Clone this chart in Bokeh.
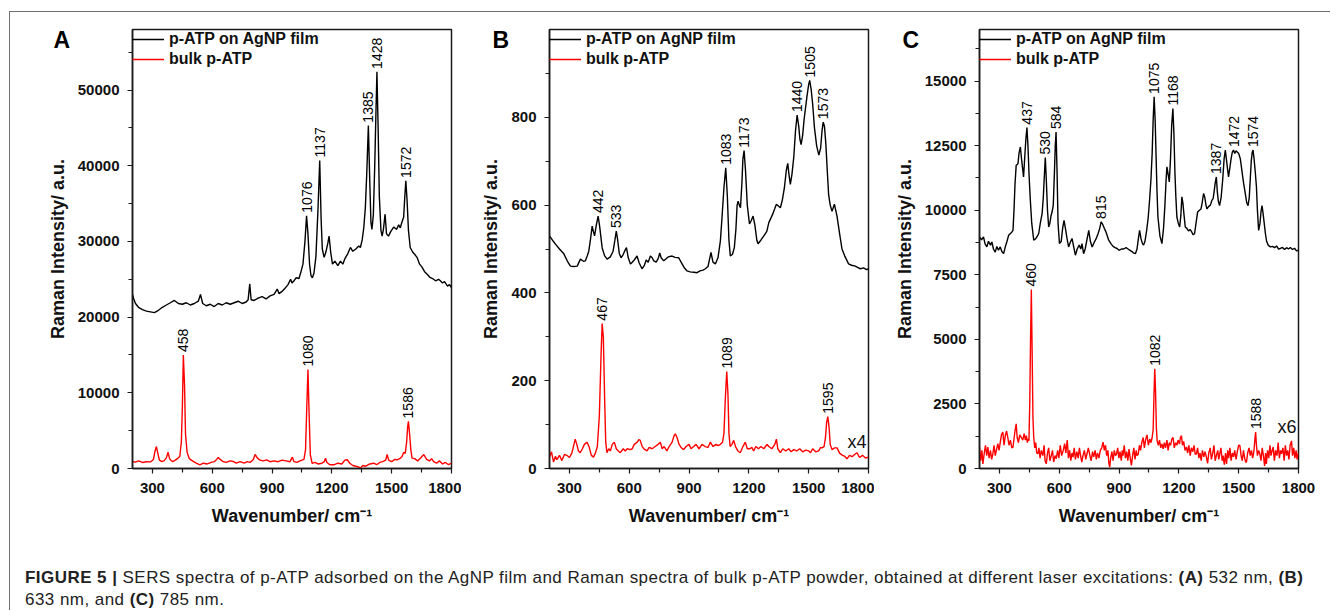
from math import pi
from bokeh.plotting import figure
from bokeh.models import (FixedTicker, Legend, LegendItem, Label, Range1d, Div)
from bokeh.layouts import row, column
from bokeh.core.properties import value
from bokeh.embed import file_html
from bokeh.resources import INLINE

FONT = "Liberation Sans"

# ---------------- Panel A (532 nm) ----------------
A_film_wn = [200,205,215,230,250,270,290,310,330,350,370,390,410,430,450,470,490,510,530,541,552,570,590,610,630,650,670,690,710,730,750,770,780,788,795,810,830,850,870,890,910,926,935,950,965,980,993,1000,1010,1020,1035,1045,1055,1065,1073,1080,1088,1095,1102,1110,1120,1130,1139,1146,1152,1161,1170,1180,1186,1194,1203,1215,1230,1243,1255,1265,1280,1293,1305,1320,1335,1343,1352,1360,1368,1375,1383,1390,1396,1401,1408,1415,1421,1426,1432,1438,1446,1452,1458,1467,1474,1484,1495,1510,1525,1535,1543,1552,1560,1566,1571,1577,1584,1593,1605,1615,1627,1640,1652,1665,1677,1690,1705,1720,1735,1744,1755,1765,1780,1790,1800]
A_film_int = [23000,22500,21800,21300,21000,20800,20700,20600,20900,21300,21600,21900,22200,21800,21700,21900,21600,21800,22100,23000,21800,21500,21700,21400,21800,21600,21900,21700,21900,22100,21800,22000,22300,24400,22300,22200,22500,22700,22400,22800,23000,23700,23100,23400,23800,24300,25000,24500,24800,25200,25100,26000,27000,30000,33400,31000,27000,25500,25200,25800,28000,34000,40700,33000,29000,27900,28600,29800,30700,28600,27000,27400,26800,27400,27000,27700,28400,29200,28700,29000,29400,29200,30200,31800,34500,39000,45300,38000,32500,31600,33500,40000,47000,52400,45000,36000,31500,30700,31500,33600,31000,30700,31300,31900,31600,32200,31800,32600,33200,36000,38000,35500,31500,29200,28600,28300,27900,27000,26600,26000,25700,25300,25100,24800,25000,24800,24500,24700,24100,24300,23900]
A_bulk_wn = [200,215,230,250,270,290,305,313,320,327,335,345,358,370,378,386,395,403,415,425,437,445,450,455,461,466,474,485,495,505,520,538,555,575,595,610,622,630,640,655,670,690,705,720,740,760,775,790,806,815,826,840,856,873,890,910,930,950,970,990,1002,1010,1025,1040,1060,1068,1074,1080,1086,1092,1101,1115,1130,1150,1162,1168,1175,1190,1210,1230,1250,1265,1277,1290,1305,1320,1335,1343,1355,1370,1390,1410,1425,1440,1455,1470,1477,1485,1500,1515,1527,1540,1552,1560,1568,1575,1580,1584,1590,1596,1602,1615,1630,1645,1661,1675,1690,1700,1711,1725,1740,1755,1770,1785,1800]
A_bulk_int = [930,850,1000,800,900,870,1200,2300,2900,2000,1100,930,1000,1400,2160,1300,1000,930,1100,1300,1590,3500,8000,15000,11000,4500,2120,1300,1100,930,700,490,700,600,800,900,1200,1460,1200,900,800,1000,930,700,900,700,900,800,1200,1850,1400,1100,1000,1150,900,1000,900,1100,1000,900,1500,900,800,1000,1200,2500,8000,13070,7000,1800,680,800,600,700,900,1370,800,500,490,700,600,1100,1150,700,400,300,200,50,400,300,600,700,500,800,900,1100,1850,1100,900,1200,1150,1300,1600,2120,2000,3500,5500,6220,4500,2500,1370,1300,1000,1400,1850,1200,1000,1300,900,700,1000,600,800,500,700]
A_film_peaks = ["1076", "1137", "1385", "1428", "1572"]
A_film_peak_x = [1073, 1139, 1383, 1426, 1571]
A_film_peak_y = [33400, 40700, 45300, 52400, 38000]
A_bulk_peaks = ["458", "1080", "1586"]
A_bulk_peak_x = [455, 1080, 1584]
A_bulk_peak_y = [15000, 13070, 6220]
A_yticks = [0, 10000, 20000, 30000, 40000, 50000]
A_yminor = [5000, 15000, 25000, 35000, 45000, 55000]

# ---------------- Panel B (633 nm) ----------------
B_film_wn = [200,215,230,250,272,290,305,320,339,355,370,380,390,397,405,414,420,426,435,444,452,464,476,489,505,519,528,535,542,550,559,570,580,586,595,606,615,625,639,650,664,675,685,695,706,715,723,735,745,753,760,773,785,795,815,830,848,860,875,890,905,924,940,955,970,982,995,1002,1010,1020,1032,1045,1057,1065,1075,1084,1092,1100,1107,1118,1127,1135,1141,1146,1152,1158,1165,1170,1176,1183,1192,1203,1212,1221,1230,1240,1246,1260,1275,1290,1300,1308,1320,1330,1338,1348,1358,1368,1378,1388,1395,1401,1408,1416,1425,1434,1442,1450,1456,1462,1470,1477,1484,1492,1500,1505,1512,1520,1529,1540,1551,1560,1567,1573,1579,1586,1593,1600,1608,1617,1629,1642,1655,1667,1680,1700,1715,1734,1745,1759,1775,1790,1800]
B_film_int = [530,520,511,500,489,472,461,460,461,477,472,473,485,495,520,552,540,530,555,575,550,503,485,477,482,495,520,541,520,490,480,488,498,503,480,466,470,475,484,468,455,462,475,470,484,480,473,470,478,491,480,473,478,482,484,481,480,470,458,450,448,447,446,450,452,455,460,475,492,470,466,480,518,570,640,685,620,520,484,488,503,545,600,609,600,594,650,705,724,680,600,557,565,575,555,520,512,520,530,540,560,568,580,592,602,598,594,612,639,680,695,670,647,670,708,770,805,780,750,738,760,795,821,850,875,884,865,830,776,735,714,730,770,789,780,740,680,624,600,586,602,575,535,500,485,466,463,461,458,455,457,453,455]
B_bulk_wn = [200,210,220,230,237,250,262,275,287,300,312,320,329,337,345,354,365,375,388,398,410,421,430,440,450,458,464,470,477,482,488,497,505,515,525,535,545,555,570,580,590,605,615,625,640,648,655,665,675,689,700,715,730,745,756,765,775,789,800,815,825,831,840,850,860,873,885,900,910,923,935,950,965,980,995,1007,1020,1035,1045,1057,1068,1075,1082,1089,1095,1100,1106,1115,1124,1133,1145,1157,1170,1182,1192,1205,1215,1224,1235,1248,1260,1275,1291,1300,1315,1330,1338,1345,1358,1370,1385,1400,1412,1425,1440,1455,1470,1485,1500,1509,1520,1535,1550,1560,1567,1577,1584,1590,1596,1602,1608,1617,1630,1642,1655,1670,1680,1692,1705,1718,1730,1742,1755,1770,1785,1800]
B_bulk_int = [26,38,15,28,20,30,18,32,30,25,35,50,67,55,40,36,45,55,60,50,30,26,35,50,120,250,330,300,150,60,36,45,40,55,60,45,40,36,45,40,45,43,45,55,60,66,64,50,44,40,48,45,50,55,60,45,50,40,50,60,75,79,70,55,48,43,50,55,45,50,55,45,55,50,48,60,50,55,52,55,60,80,160,221,170,80,50,55,64,50,40,36,50,60,45,45,48,40,50,45,50,45,55,50,45,55,67,45,36,45,40,45,38,43,40,45,38,42,40,36,45,38,40,48,47,50,70,105,118,95,55,43,47,47,35,30,28,22,30,27,32,36,25,30,24,26]
B_film_peaks = ["442", "533", "1083", "1173", "1440", "1505", "1573"]
B_film_peak_x = [444, 535, 1084, 1176, 1442, 1505, 1573]
B_film_peak_y = [575, 541, 685, 724, 805, 884, 789]
B_bulk_peaks = ["467", "1089", "1595"]
B_bulk_peak_x = [464, 1089, 1596]
B_bulk_peak_y = [330, 221, 118]
B_yticks = [0, 200, 400, 600, 800]
B_yminor = [100, 300, 500, 700, 900]

# ---------------- Panel C (785 nm) ----------------
C_film_wn = [200,210,220,228,237,245,255,262,270,279,287,295,304,312,321,330,338,346,355,362,368,373,378,384,393,398,405,412,421,428,433,438,443,449,455,462,472,482,490,497,505,514,520,525,530,535,541,547,553,559,564,570,576,580,584,589,594,601,610,617,624,631,639,647,655,664,672,681,690,700,708,714,722,730,740,748,756,765,775,785,795,803,810,818,826,835,848,860,870,880,890,900,912,923,935,945,955,965,972,982,990,997,1003,1010,1018,1023,1030,1038,1046,1053,1060,1066,1071,1076,1081,1086,1090,1095,1105,1115,1123,1130,1136,1140,1146,1152,1158,1164,1170,1175,1180,1185,1190,1197,1204,1210,1215,1220,1226,1232,1240,1248,1257,1265,1272,1279,1286,1294,1303,1311,1317,1324,1330,1336,1341,1350,1358,1366,1372,1378,1383,1388,1393,1398,1404,1412,1420,1427,1433,1438,1444,1449,1455,1462,1468,1474,1480,1487,1494,1500,1508,1515,1520,1525,1532,1540,1547,1553,1558,1563,1568,1572,1577,1583,1589,1594,1600,1607,1612,1617,1622,1628,1634,1640,1648,1659,1670,1680,1690,1700,1709,1720,1730,1740,1750,1759,1770,1780,1790,1800]
C_film_int = [8970,8850,8970,8700,8580,8800,8650,8770,8500,8380,8600,8450,8580,8400,8320,8600,8800,9030,9100,9150,9220,10000,11000,11740,11800,12200,12450,11900,11290,12200,12800,13200,12500,11300,10390,9500,8840,8900,9000,9100,9500,9870,10500,11300,12040,11200,10000,9350,9500,9800,9930,10200,11500,12500,13030,11500,9500,8710,8800,9300,9610,9300,8900,8580,8750,8910,8600,8260,8500,8650,8500,8710,8320,8500,8900,9220,8800,8580,8750,8900,9100,9300,9550,9450,9300,9150,8840,8700,8600,8550,8520,8450,8500,8500,8550,8500,8450,8400,8350,8320,8500,8900,9220,8900,8700,8650,8800,9200,9700,10390,11200,12200,13500,14390,13500,12000,10800,9740,9000,8710,9300,10200,11200,11680,11400,11100,12000,13300,13940,13000,11500,10500,9740,9500,9350,9800,10520,10300,9800,9350,9300,9200,9250,9150,9050,9100,9500,9930,10000,10050,10300,10650,10500,10200,10050,10150,10200,10390,10450,10800,11100,11290,10700,10350,10180,10500,11200,12000,12330,12000,11600,11290,11600,12000,12250,12330,12200,12300,12250,12200,12000,11600,11300,11040,10700,10300,10180,10500,11200,11900,12250,12330,12000,11500,10910,10000,9220,9500,9950,10180,9900,9500,9100,8800,8650,8580,8600,8550,8620,8500,8520,8560,8480,8550,8500,8560,8480,8530,8430,8450]
C_bulk_wn = [200,206,212,217,224,230,236,242,248,255,261,267,273,279,286,292,298,304,310,317,323,330,336,342,348,355,362,368,374,379,384,389,395,402,410,417,424,430,435,440,444,448,452,456,460,464,468,472,477,482,487,493,498,504,510,518,524,529,535,541,547,553,560,566,572,579,585,592,598,605,612,620,627,633,640,646,652,658,664,669,675,681,688,695,701,707,713,719,726,733,740,746,753,760,767,773,780,786,792,799,806,813,820,826,832,838,844,849,853,858,864,870,876,882,887,893,899,905,911,916,920,926,932,938,944,950,956,962,968,974,980,986,990,996,1002,1008,1014,1021,1027,1033,1040,1047,1054,1060,1066,1071,1075,1079,1083,1087,1091,1097,1103,1109,1115,1121,1127,1133,1140,1146,1152,1158,1165,1171,1177,1184,1190,1196,1203,1208,1213,1218,1224,1231,1238,1244,1250,1257,1263,1270,1276,1282,1288,1294,1300,1306,1312,1318,1325,1331,1338,1344,1350,1357,1363,1370,1376,1382,1388,1395,1400,1405,1411,1417,1422,1428,1434,1439,1445,1450,1456,1462,1468,1474,1480,1487,1493,1500,1506,1512,1518,1524,1530,1535,1539,1545,1552,1558,1564,1570,1575,1579,1582,1585,1589,1594,1600,1606,1612,1618,1624,1630,1635,1639,1645,1651,1657,1662,1668,1673,1679,1685,1692,1698,1704,1710,1715,1722,1728,1734,1740,1746,1752,1758,1765,1770,1776,1782,1788,1793,1798,1800]
C_bulk_int = [830,300,700,180,600,900,500,830,400,700,350,570,900,500,750,960,700,1000,1300,1410,900,1300,1450,1200,900,1100,800,830,1200,1500,1730,1200,1000,1300,1200,1100,1350,1100,1270,1000,1150,1070,2500,5000,6930,4500,2000,1200,800,1000,600,570,800,400,700,500,900,300,180,600,800,300,500,700,250,500,380,700,400,900,500,700,960,600,1100,400,700,300,600,440,800,350,650,400,800,500,250,500,700,350,600,800,530,300,650,450,700,350,600,400,700,800,1020,700,900,500,700,200,50,400,650,300,700,500,550,800,400,650,300,700,500,900,400,650,300,750,400,120,500,800,350,700,500,550,900,700,1000,1200,800,1100,1300,900,1140,1000,1200,1500,2800,3860,3000,1600,1070,900,1100,800,950,760,1000,800,1100,700,1000,900,1150,1200,800,1000,900,1100,950,1200,1270,900,1050,700,830,600,900,500,800,650,900,550,570,800,400,600,300,700,450,650,440,200,600,800,350,600,900,300,500,700,350,570,800,300,500,150,600,180,700,400,800,300,600,450,700,350,650,900,890,500,300,700,400,250,250,600,800,500,700,400,600,900,1200,1410,900,500,700,570,300,800,500,100,600,180,700,400,900,500,700,830,300,700,500,1000,400,700,570,800,300,900,500,700,350,900,1070,500,800,400,700,350,570,600]
C_film_peaks = ["437", "530", "584", "815", "1075", "1168", "1387", "1472", "1574"]
C_film_peak_x = [438, 530, 584, 810, 1076, 1170, 1388, 1474, 1572]
C_film_peak_y = [13200, 12040, 13030, 9550, 14390, 13940, 11290, 12330, 12330]
C_bulk_peaks = ["460", "1082", "1588"]
C_bulk_peak_x = [460, 1079, 1585]
C_bulk_peak_y = [6930, 3860, 1410]
C_yticks = [0, 2500, 5000, 7500, 10000, 12500, 15000]
C_yminor = [1250, 3750, 6250, 8750, 11250, 13750, 16250]

x_ticks = [300, 600, 900, 1200, 1500, 1800]
x_minor = [450, 750, 1050, 1350, 1650]
legend_labels = ["p-ATP on AgNP film", "bulk p-ATP"]
panel_letters = ["A", "B", "C"]
scale_notes = [None, "x4", "x6"]


def make_panel(letter, ymax, yticks, yminor, film, bulk, film_pk, bulk_pk,
               note, left, right, letter_dx):
    p = figure(frame_width=319, frame_height=439, output_backend="svg",
               toolbar_location=None, x_range=Range1d(200, 1800),
               y_range=Range1d(0, ymax), min_border_left=left,
               min_border_right=right, min_border_top=17,
               min_border_bottom=62, background_fill_color="white",
               border_fill_color="white")
    p.grid.visible = False
    p.outline_line_color = "#1a1a1a"
    p.outline_line_width = 1.5
    for ax in (p.xaxis[0], p.yaxis[0]):
        ax.axis_line_color = "#1a1a1a"
        ax.axis_line_width = 1.5
        ax.major_tick_line_color = "#1a1a1a"
        ax.minor_tick_line_color = "#1a1a1a"
        ax.major_tick_line_width = 1.2
        ax.minor_tick_line_width = 1.2
        ax.major_tick_in = 0
        ax.major_tick_out = 5
        ax.minor_tick_in = 0
        ax.minor_tick_out = 4
        ax.major_label_text_font = FONT
        ax.major_label_text_font_style = "bold"
        ax.major_label_text_font_size = "15px"
        ax.major_label_text_color = "#111111"
        ax.axis_label_text_font = FONT
        ax.axis_label_text_font_style = "bold"
        ax.axis_label_text_font_size = "18px"
        ax.axis_label_text_color = "#111111"
    p.xaxis[0].ticker = FixedTicker(ticks=x_ticks, minor_ticks=x_minor)
    p.yaxis[0].ticker = FixedTicker(ticks=yticks, minor_ticks=yminor)
    p.xaxis[0].axis_label = "Wavenumber/ cm\u207b\u00b9"
    p.yaxis[0].axis_label = "Raman Intensity/ a.u."
    p.xaxis[0].major_label_standoff = 9
    p.yaxis[0].major_label_standoff = 8
    p.xaxis[0].axis_label_standoff = 10
    p.yaxis[0].axis_label_standoff = 7

    r_bulk = p.line(bulk[0], bulk[1], line_color="#ff0000", line_width=1.4)
    r_film = p.line(film[0], film[1], line_color="#000000", line_width=1.4)

    for (labels, xs, ys) in (film_pk, bulk_pk):
        p.text(x=xs, y=ys, text=labels, angle=pi / 2, text_align="left",
               text_baseline="middle", text_font=value(FONT),
               text_font_size="14px", text_color="#000000", y_offset=-3)

    legend = Legend(items=[LegendItem(label=legend_labels[0], renderers=[r_film]),
                           LegendItem(label=legend_labels[1], renderers=[r_bulk])],
                    location="top_left", margin=0, padding=3, spacing=0,
                    glyph_width=32, glyph_height=20, label_standoff=5,
                    border_line_color=None, background_fill_alpha=0,
                    label_text_font=FONT, label_text_font_style="bold",
                    label_text_font_size="16px", label_text_color="#111111",
                    label_height=20)
    p.add_layout(legend)

    # panel letter, placed in the left side panel so it is not clipped by the frame
    p.add_layout(Label(x=200, y=ymax, x_offset=-letter_dx, y_offset=3,
                       text=letter, text_font=FONT, text_font_style="bold",
                       text_font_size="23px", text_baseline="top",
                       text_color="#000000"), "left")
    if note is not None:
        p.add_layout(Label(x=note[1], y=note[2], text=note[0], text_font=FONT,
                           text_font_size="18px", text_baseline="alphabetic",
                           text_color="#111111"))
    return p


pA = make_panel(panel_letters[0], 58000, A_yticks, A_yminor,
                (A_film_wn, A_film_int), (A_bulk_wn, A_bulk_int),
                (A_film_peaks, A_film_peak_x, A_film_peak_y),
                (A_bulk_peaks, A_bulk_peak_x, A_bulk_peak_y),
                None, 122, 10, 79)
pB = make_panel(panel_letters[1], 1000, B_yticks, B_yminor,
                (B_film_wn, B_film_int), (B_bulk_wn, B_bulk_int),
                (B_film_peaks, B_film_peak_x, B_film_peak_y),
                (B_bulk_peaks, B_bulk_peak_x, B_bulk_peak_y),
                (scale_notes[1], 1695, 61), 88, 6, 57)
pC = make_panel(panel_letters[2], 17000, C_yticks, C_yminor,
                (C_film_wn, C_film_int), (C_bulk_wn, C_bulk_int),
                (C_film_peaks, C_film_peak_x, C_film_peak_y),
                (C_bulk_peaks, C_bulk_peak_x, C_bulk_peak_y),
                (scale_notes[2], 1695, 1590), 105, 20, 77)

caption = Div(
    text=("<b>FIGURE 5 |</b> SERS spectra of p-ATP adsorbed on the AgNP film and Raman "
          "spectra of bulk p-ATP powder, obtained at different laser excitations: "
          "<b>(A)</b> 532 nm, <b>(B)</b><br>633 nm, and <b>(C)</b> 785 nm."),
    width=1320, height=80, margin=(0, 0, 0, 0),
    styles={"font-family": FONT, "font-size": "17px", "line-height": "22px",
            "letter-spacing": "0.45px", "color": "#222222",
            "padding-left": "15px", "padding-top": "37px",
            "white-space": "nowrap"})

layout = column(row(pA, pB, pC), caption, margin=(11, 0, 0, 9),
                styles={"border-top": "1px solid #707070",
                        "border-left": "1px solid #707070"})

open("out.html", "w").write(file_html(layout, INLINE))
